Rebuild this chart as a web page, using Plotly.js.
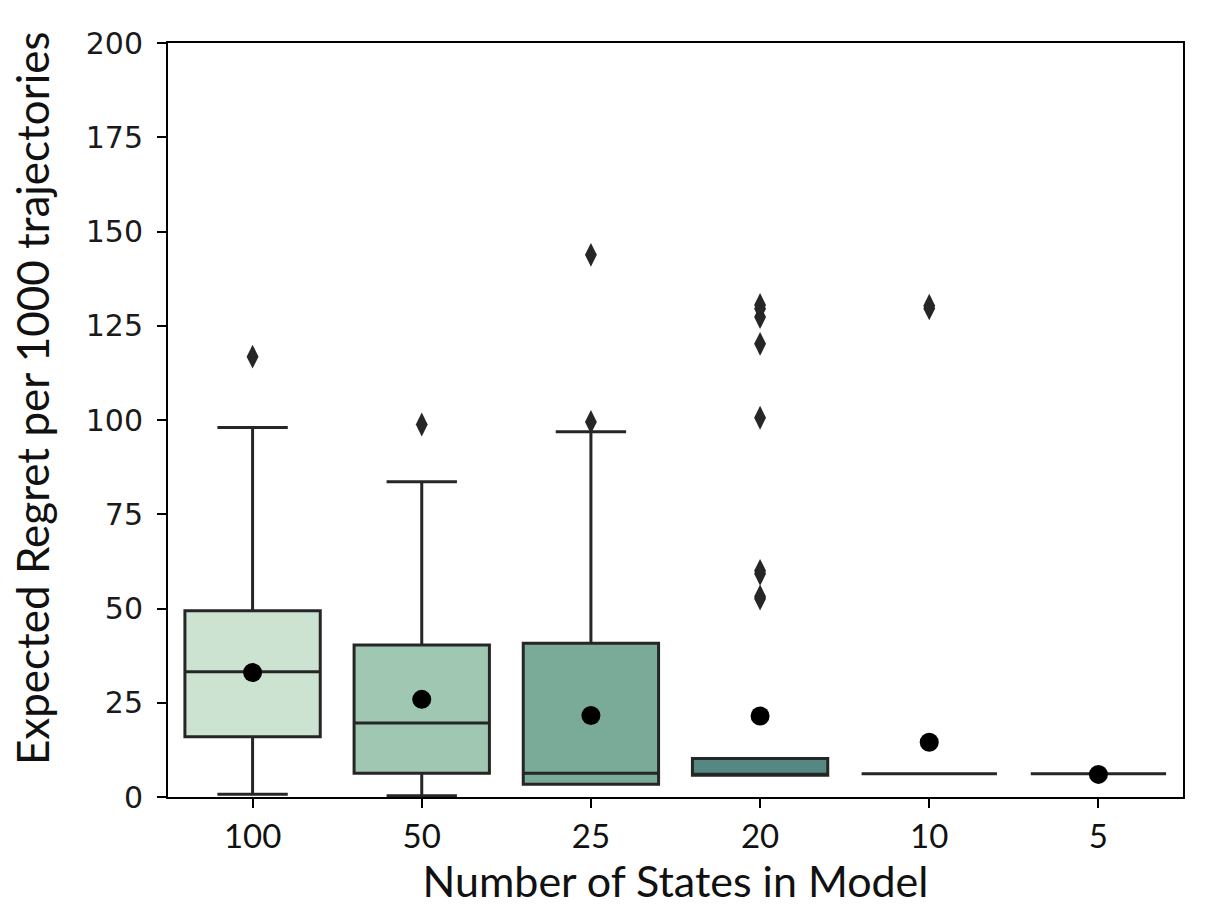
<!DOCTYPE html>
<html>
<head>
<meta charset="utf-8">
<script src="https://cdn.plot.ly/plotly-3.0.1.min.js"></script>
<style>html,body{margin:0;padding:0;background:#fff;}#chart{width:1207px;height:910px;}</style>
</head>
<body>
<div id="chart"></div>
<script>
const categories = ["100", "50", "25", "20", "10", "5"];
const q1Vals = [16, 6.3, 3.4, 5.8, 6.2, 6.2];
const medianVals = [33.2, 19.6, 6.3, 6.0, 6.2, 6.2];
const q3Vals = [49.4, 40.3, 40.8, 10.2, 6.2, 6.2];
const lowerVals = [0.7, 0.3, 3.4, 5.8, 6.2, 6.2];
const upperVals = [98, 83.6, 96.9, 10.2, 6.2, 6.2];
const meanVals = [33, 25.9, 21.6, 21.5, 14.5, 6.0];
const boxColors = ["#cbe3d0", "#a0c7b1", "#7aab98", "#558882", "#3e6a6b", "#2e4f55"];
const outlierCats = ["100", "50", "25", "25", "20", "20", "20", "20", "20", "20", "20", "20", "20", "10", "10"];
const outlierVals = [116.8, 98.8, 143.8, 99.5, 130.5, 129.5, 127.3, 120.2, 100.6, 60, 59.2, 53.2, 52.6, 130.3, 129.6];
const xTitle = "Number of States in Model";
const yTitle = "Expected Regret per 1000 trajectories";

const lineColor = "#262626";
const traces = categories.map((c, i) => ({
  type: "box",
  x: [c],
  q1: [q1Vals[i]],
  median: [medianVals[i]],
  q3: [q3Vals[i]],
  lowerfence: [lowerVals[i]],
  upperfence: [upperVals[i]],
  boxpoints: false,
  fillcolor: boxColors[i],
  line: {color: lineColor, width: 3},
  whiskerwidth: 0.52,
  width: 0.8,
  hoverinfo: "skip",
  showlegend: false
}));

traces.push({
  type: "scatter", mode: "markers",
  x: outlierCats, y: outlierVals,
  marker: {symbol: "diamond-tall", size: 17, color: lineColor},
  showlegend: false, hoverinfo: "skip"
});
traces.push({
  type: "scatter", mode: "markers",
  x: categories, y: meanVals,
  marker: {symbol: "circle", size: 19, color: "#000000"},
  showlegend: false, hoverinfo: "skip"
});

const layout = {
  width: 1207, height: 910,
  margin: {l: 168, r: 24, t: 43, b: 113},
  paper_bgcolor: "#ffffff", plot_bgcolor: "#ffffff",
  showlegend: false,
  boxmode: "overlay",
  xaxis: {
    type: "category",
    categoryorder: "array", categoryarray: categories,
    range: [-0.5, 5.5],
    showline: true, linecolor: "#000", linewidth: 2, mirror: true,
    ticks: "outside", ticklen: 9, tickwidth: 2, tickcolor: "#000",
    showgrid: false, zeroline: false,
    tickfont: {family: "Lato, sans-serif", size: 33, color: "#111"},
    title: {text: xTitle, font: {family: "Lato, sans-serif", size: 43, color: "#111"}, standoff: 6}
  },
  yaxis: {
    range: [0, 200],
    tickvals: [0, 25, 50, 75, 100, 125, 150, 175, 200],
    showline: true, linecolor: "#000", linewidth: 2, mirror: true,
    ticks: "outside", ticklen: 9, tickwidth: 2, tickcolor: "#000",
    ticklabelstandoff: 8,
    showgrid: false, zeroline: false,
    tickfont: {family: "DejaVu Sans, sans-serif", size: 30, color: "#1a1a1a"}
  },
  annotations: [{
    text: yTitle, textangle: -90, showarrow: false,
    xref: "paper", yref: "paper", x: -0.134, y: 0.529,
    xanchor: "center", yanchor: "middle",
    font: {family: "Lato, sans-serif", size: 44, color: "#111"}
  }]
};

Plotly.newPlot("chart", traces, layout, {displayModeBar: false, staticPlot: true});
</script>
</body>
</html>
